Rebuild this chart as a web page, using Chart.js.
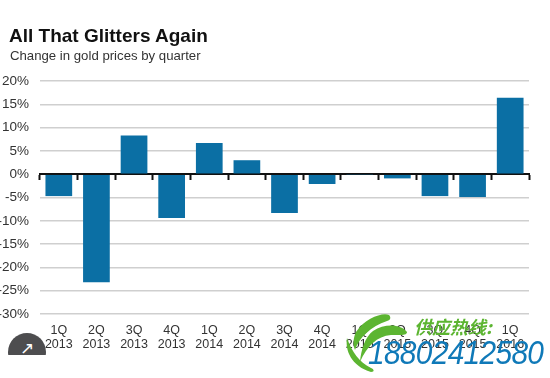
<!DOCTYPE html>
<html>
<head>
<meta charset="utf-8">
<script src="https://cdn.jsdelivr.net/npm/chart.js@4"></script>
<style>
  html, body { margin: 0; padding: 0; background: #fff; overflow: hidden; }
  #wrap { position: relative; width: 550px; height: 378px; font-family: "Liberation Sans", Arial, sans-serif; }
  #gold { position: absolute; left: 0; top: 0; }
  #title { position: absolute; left: 9px; top: 25px; font-size: 19px; font-weight: bold; color: #111; line-height: 22px; white-space: nowrap; }
  #sub { position: absolute; left: 10px; top: 48px; font-size: 13.2px; color: #333; line-height: 16px; white-space: nowrap; }
  #share { position: absolute; left: 8px; top: 333px; width: 38px; height: 22px; overflow: hidden; }
  #share div { width: 38px; height: 38px; border-radius: 19px; background: #4d4d4f; color: #fff; font-size: 17px; line-height: 32px; text-align: center; }
  #logo { position: absolute; left: 345px; top: 312px; }
  #hot { position: absolute; left: 414px; top: 316px; color: #5cb531; font: italic bold 18px "Noto Sans CJK SC"; line-height: 20px; white-space: nowrap; }
  #phone { position: absolute; left: 368px; top: 333px; color: #0f79b8; font: italic 34px "Liberation Sans"; line-height: 38px; white-space: nowrap; transform: scaleX(0.88); transform-origin: left top; letter-spacing: -0.8px; }
</style>
</head>
<body>
<div id="wrap">
  <canvas id="gold" width="550" height="378"></canvas>
  <div id="title">All That Glitters Again</div>
  <div id="sub">Change in gold prices by quarter</div>
  <div id="share"><div>&#8599;</div></div>
  <svg id="logo" width="90" height="68" viewBox="0 0 90 68">
    <path d="M44 3 C38 0 20 6 11 20 C8 26 8 33 10 38 C14 26 26 14 42 9 C46 8 46 5 44 3 Z" fill="#5cb531"/>
    <path d="M62 20 C56 12 40 11 28 19 C20 25 16 38 15 50 C22 34 32 24 46 23 C54 23 62 24 62 20 Z" fill="#5cb531"/>
    <path d="M2 26 C0 38 6 54 26 60 C30 60 29 57 26 56 C14 50 7 40 2 26 Z" fill="#5cb531"/>
  </svg>
  <div id="hot">供应热线:</div>
  <div id="phone">18802412580</div>
</div>
<script>
const quarters = ["1Q", "2Q", "3Q", "4Q", "1Q", "2Q", "3Q", "4Q", "1Q", "2Q", "3Q", "4Q", "1Q"];
const years = ["2013", "2013", "2013", "2013", "2014", "2014", "2014", "2014", "2015", "2015", "2015", "2015", "2016"];
const changes = [-4.7, -23.2, 8.3, -9.4, 6.7, 3, -8.3, -2.1, -0.1, -0.9, -4.7, -4.9, 16.4];

const labels = quarters.map((q, i) => [q, years[i]]);

new Chart(document.getElementById("gold"), {
  type: "bar",
  data: {
    labels: labels,
    datasets: [{
      data: changes,
      backgroundColor: "#0b6fa4",
      barPercentage: 0.71,
      categoryPercentage: 1
    }]
  },
  options: {
    responsive: false,
    animation: false,
    layout: { padding: { left: 0, right: 21, top: 81, bottom: 24 } },
    plugins: {
      legend: { display: false },
      tooltip: { enabled: false }
    },
    scales: {
      x: {
        position: "bottom",
        offset: true,
        grid: { display: false },
        border: { display: false },
        ticks: {
          autoSkip: false,
          maxRotation: 0,
          color: "#333",
          padding: 2,
          font: { family: "Liberation Sans", size: 12.5, lineHeight: 1.12 }
        }
      },
      zero: {
        axis: "x",
        type: "category",
        position: { y: 0 },
        offset: true,
        grid: { offset: true, drawOnChartArea: false, drawTicks: true, tickLength: 5, tickColor: "#111", tickWidth: 2 },
        border: { display: true, color: "#111", width: 2 },
        ticks: { display: false }
      },
      y: {
        min: -30,
        max: 20,
        afterFit: s => { s.width = 40; },
        grid: { color: "#cfcfcf", lineWidth: 1.5, drawTicks: false },
        border: { display: false },
        ticks: {
          stepSize: 5,
          color: "#333",
          padding: 11,
          font: { family: "Liberation Sans", size: 13.5 },
          callback: v => v + "%"
        }
      }
    }
  }
});
</script>
</body>
</html>
